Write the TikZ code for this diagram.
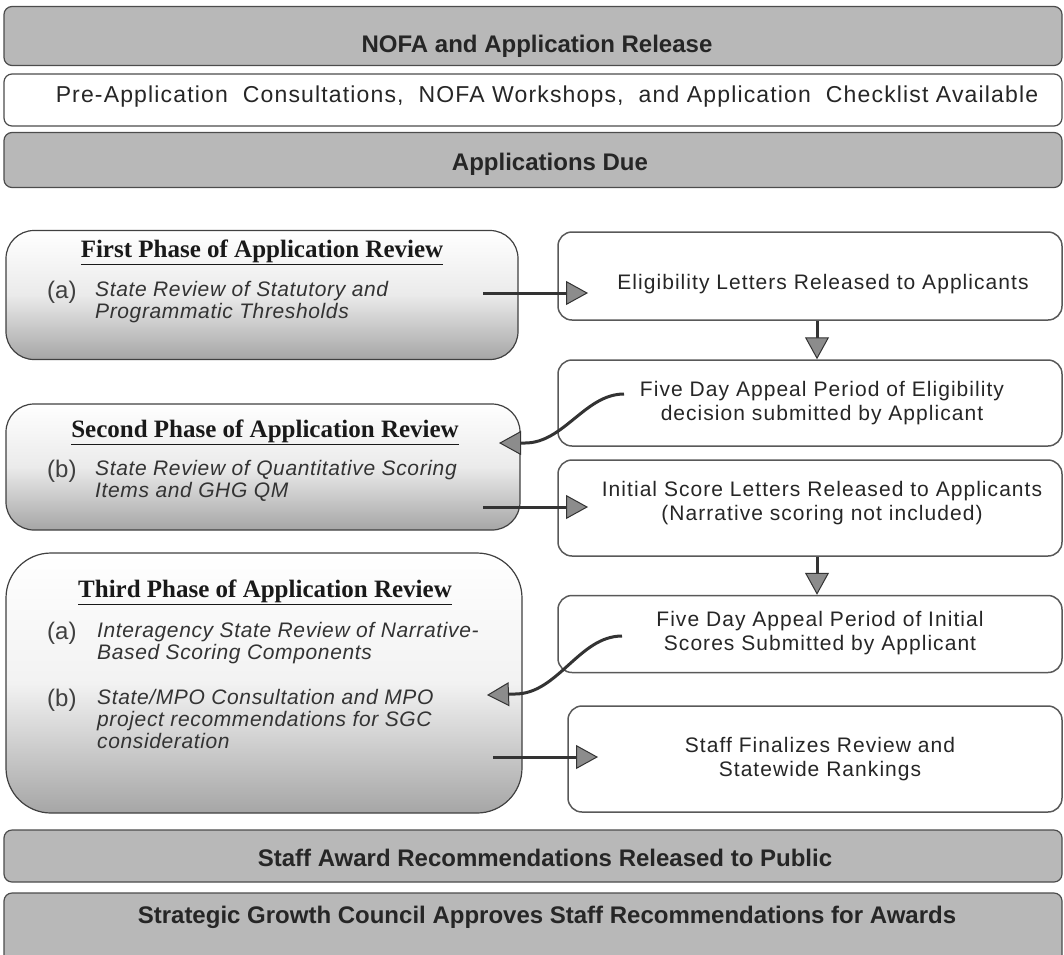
\documentclass[tikz,border=0pt]{standalone}
\usepackage{fontspec}
\setmainfont{Liberation Sans}
\newfontfamily\serifbold{Liberation Serif}
\usetikzlibrary{arrows.meta}
\begin{document}
\begin{tikzpicture}[x=1pt,y=-1pt,
  hdr/.style={draw=black!70, line width=1.2pt, rounded corners=8pt, fill=black!28, inner sep=0pt},
  hdrtxt/.style={font=\fontsize{24}{28}\selectfont\bfseries, text=black!85, inner sep=0pt},
  plain/.style={draw=black!70, line width=1.2pt, rounded corners=8pt, fill=white, inner sep=0pt},
  phase/.style={draw=black!75, line width=1.2pt, rounded corners=28pt, top color=white, bottom color=black!35, middle color=black!8, inner sep=0pt},
  rbox/.style={draw=black!65, line width=1.5pt, rounded corners=14pt, fill=white, inner sep=0pt},
  rtxt/.style={font=\fontsize{21}{24}\selectfont\addfontfeature{LetterSpace=5}, text=black!85, align=center, inner sep=0pt},
  ptitle/.style={font=\fontsize{25}{28}\serifbold\bfseries, text=black!90, inner sep=0pt},
  lbl/.style={font=\fontsize{24}{26}\selectfont, text=black!75, inner sep=0pt, anchor=west},
  itm/.style={font=\fontsize{21}{22}\selectfont\itshape\addfontfeature{LetterSpace=3}, text=black!80, align=left, inner sep=0pt, anchor=north west},
  arr/.style={draw=black!80, line width=3pt, -{Triangle[length=22pt,width=24pt,fill=black!45,line width=1pt]}}
]
\useasboundingbox (0,0) rectangle (1064,954);

% header bars
\node[hdr, minimum width=1058pt, minimum height=59pt] (nofa) at (533,36) {};
\node[hdrtxt] (nofaT) at (537,46) {NOFA and Application Release};
\node[plain, minimum width=1058pt, minimum height=52pt] (pre) at (533,100) {};
\node[font=\fontsize{23}{26}\selectfont\addfontfeature{LetterSpace=5}, text=black!85, inner sep=0pt] (preT) at (547,97) {Pre-Application\ \ Consultations,\ \ NOFA Workshops,\ \ and Application\ \ Checklist Available};
\node[hdr, minimum width=1058pt, minimum height=55pt] (due) at (533,160) {};
\node[hdrtxt] (dueT) at (550,164) {Applications Due};

% phase boxes (left)
\node[phase, minimum width=512pt, minimum height=129pt] (ph1) at (262,295) {};
\node[ptitle] (ph1T) at (262,252) {\underline{First Phase of Application Review}};
\node[lbl] (ph1a) at (47,292) {(a)};
\node[itm] (ph1aT) at (95,281) {State Review of Statutory and\\Programmatic Thresholds};

\node[phase, minimum width=514pt, minimum height=126pt] (ph2) at (263,467) {};
\node[ptitle] (ph2T) at (265,432) {\underline{Second Phase of Application Review}};
\node[lbl] (ph2b) at (47,471) {(b)};
\node[itm] (ph2bT) at (95,460) {State Review of Quantitative Scoring\\Items and GHG QM};

\node[phase, rounded corners=45pt, minimum width=516pt, minimum height=260pt, middle color=black!5] (ph3) at (264,683) {};
\node[ptitle] (ph3T) at (265,592) {\underline{Third Phase of Application Review}};
\node[lbl] (ph3a) at (47,633) {(a)};
\node[itm] (ph3aT) at (97,622) {Interagency State Review of Narrative-\\Based Scoring Components};
\node[lbl] (ph3b) at (47,700) {(b)};
\node[itm] (ph3bT) at (97,689) {State/MPO Consultation and MPO\\project recommendations for SGC\\consideration};

% right boxes
\node[rbox, minimum width=504pt, minimum height=88pt] (elig) at (810,276) {};
\node[rtxt] (eligT) at (823,284) {Eligibility Letters Released to Applicants};
\node[rbox, minimum width=504pt, minimum height=86pt] (ap1) at (810,403) {};
\node[rtxt] (ap1T) at (822,403) {Five Day Appeal Period of Eligibility\\decision submitted by Applicant};
\node[rbox, minimum width=504pt, minimum height=96pt] (init) at (810,508) {};
\node[rtxt] (initT) at (822,503) {Initial Score Letters Released to Applicants\\(Narrative scoring not included)};
\node[rbox, minimum width=504pt, minimum height=77pt] (ap2) at (810,634) {};
\node[rtxt] (ap2T) at (820,633) {Five Day Appeal Period of Initial\\Scores Submitted by Applicant};
\node[rbox, minimum width=494pt, minimum height=106pt] (fin) at (815,759) {};
\node[rtxt] (finT) at (820,759) {Staff Finalizes Review and\\Statewide Rankings};

% bottom bars
\node[hdr, minimum width=1058pt, minimum height=52pt] (rec) at (533,856) {};
\node[hdrtxt] (recT) at (545,858) {Staff Award Recommendations Released to Public};
\node[hdr, minimum width=1058pt, minimum height=70pt] (sgc) at (533,928) {};
\node[hdrtxt] (sgcT) at (547,917) {Strategic Growth Council Approves Staff Recommendations for Awards};

% connector end points
\coordinate (a1s) at (483,293);
\coordinate (a1e) at (588,293);
\coordinate (a2s) at (483,507);
\coordinate (a2e) at (588,507);
\coordinate (a3s) at (493,757);
\coordinate (a3e) at (598,757);
\coordinate (c1s) at (624,394);
\coordinate (c1m) at (525,443);
\coordinate (c1e) at (499,443);
\coordinate (c2s) at (622,636);
\coordinate (c2m) at (515,694);
\coordinate (c2e) at (487,695);

\draw[arr] (a1s) -- (a1e);
\draw[arr] (a2s) -- (a2e);
\draw[arr] (a3s) -- (a3e);
\draw[arr] (elig.south -| 817,0) -- (ap1.north -| 817,0);
\draw[arr] (init.south -| 817,0) -- (ap2.north -| 817,0);
\draw[arr] (c1s) to[out=180,in=0,looseness=0.9] (c1m) -- (c1e);
\draw[arr] (c2s) to[out=180,in=0,looseness=0.9] (c2m) -- (c2e);
\end{tikzpicture}
\end{document}
